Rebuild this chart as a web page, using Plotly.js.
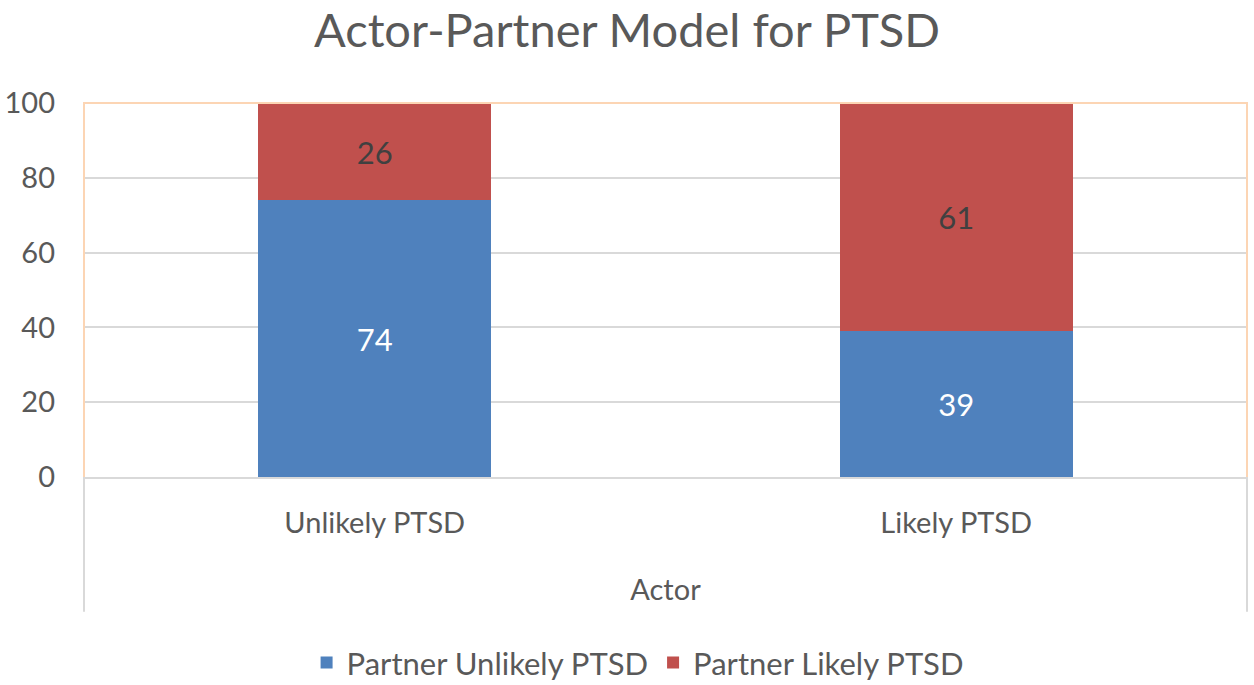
<!DOCTYPE html>
<html>
<head>
<meta charset="utf-8">
<script src="https://cdn.plot.ly/plotly-3.0.1.min.js"></script>
<style>
  html, body { margin: 0; padding: 0; background: #fff; }
  #chart { width: 1254px; height: 685px; }
</style>
</head>
<body>
<div id="chart"></div>
<script>
// Werte
const categories = ['Unlikely PTSD', 'Likely PTSD'];
const partnerUnlikely = [74, 39];
const partnerLikely = [26, 61];
const seriesNames = ['Partner Unlikely PTSD', 'Partner Likely PTSD'];
const yTicks = [0, 20, 40, 60, 80, 100];

const FONT = 'Lato, "Open Sans", sans-serif';
const TEXT = '#595959';

const data = [
  {
    type: 'bar', name: seriesNames[0],
    x: categories, y: partnerUnlikely,
    marker: { color: '#4f81bd' },
    text: partnerUnlikely.map(String),
    textposition: 'inside', insidetextanchor: 'middle',
    textfont: { family: FONT, size: 31, color: '#ffffff' },
    hoverinfo: 'skip'
  },
  {
    type: 'bar', name: seriesNames[1],
    x: categories, y: partnerLikely,
    marker: { color: '#c0504d' },
    text: partnerLikely.map(String),
    textposition: 'inside', insidetextanchor: 'middle',
    textfont: { family: FONT, size: 31, color: '#404040' },
    hoverinfo: 'skip'
  }
];

const layout = {
  width: 1254, height: 685,
  margin: { l: 84, r: 7, t: 103, b: 208, autoexpand: false },
  paper_bgcolor: '#ffffff',
  plot_bgcolor: '#ffffff',
  barmode: 'stack',
  bargap: 0.6,
  font: { family: FONT, color: TEXT },
  title: {
    text: 'Actor-Partner Model for PTSD',
    font: { family: FONT, size: 47, color: TEXT },
    x: 0.5, xanchor: 'center', y: 0.956, yanchor: 'middle'
  },
  xaxis: {
    showline: true, linecolor: '#d9d9d9', linewidth: 2,
    ticks: '', showgrid: false,
    tickfont: { size: 29, color: TEXT },
    ticklabelstandoff: 19,
    title: { text: 'Actor', font: { size: 29, color: TEXT }, standoff: 42 },
    fixedrange: true
  },
  yaxis: {
    range: [0, 100], tickvals: yTicks,
    showgrid: true, gridcolor: '#d9d9d9', gridwidth: 2,
    zeroline: false, showline: false, ticks: '',
    tickfont: { size: 29, color: TEXT },
    ticklabelstandoff: 28,
    fixedrange: true
  },
  showlegend: true,
  legend: {
    orientation: 'h', x: 0.476, xanchor: 'center',
    y: -0.497, yanchor: 'middle',
    font: { size: 31, color: TEXT },
    itemwidth: 30, traceorder: 'normal'
  },
  shapes: [
    // orange Umrandung oben und an den Seiten
    { type: 'path', xref: 'paper', yref: 'paper',
      path: 'M 0 0 L 0 1 L 1 1 L 1 0',
      line: { color: '#fcd5b4', width: 2 } },
    // graue Linien unter der Achse
    { type: 'line', xref: 'paper', yref: 'paper', x0: 0, x1: 0, y0: 0, y1: -0.36,
      line: { color: '#d9d9d9', width: 2 } },
    { type: 'line', xref: 'paper', yref: 'paper', x0: 1, x1: 1, y0: 0, y1: -0.36,
      line: { color: '#d9d9d9', width: 2 } }
  ]
};

Plotly.newPlot('chart', data, layout, { staticPlot: true, displayModeBar: false });
</script>
</body>
</html>
